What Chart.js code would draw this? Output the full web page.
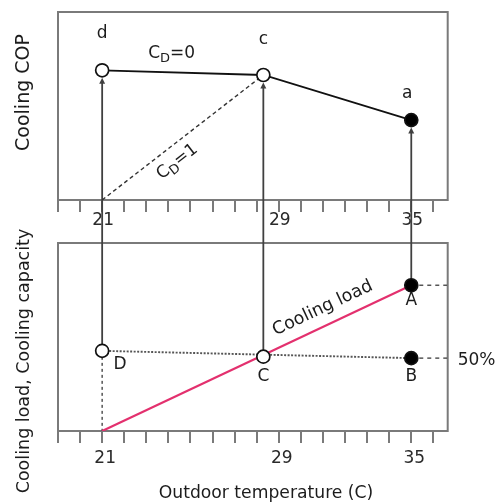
<!DOCTYPE html>
<html><head><meta charset="utf-8">
<script src="https://cdn.jsdelivr.net/npm/chart.js@4.4.1/dist/chart.umd.min.js"></script>
<style>html,body{margin:0;padding:0;background:#fff;overflow:hidden}#wrap{width:496px;height:503px;position:relative}</style>
</head><body><div id="wrap"><canvas id="c" width="496" height="503"></canvas></div>
<script>
// ---------- data ----------
const tempTicks = [19, 20, 21, 22, 23, 24, 25, 26, 27, 28, 29, 30, 31, 32, 33, 34, 35, 36];
const tempLabels = [21, 29, 35];
const tempMin = 19, tempMax = 36.65;

// top panel: cooling COP (arbitrary schematic units)
const copRange = [0, 10];
const copTemps = [21, 28.3, 35];
const copValues = [6.9, 6.65, 4.25];
const copNames = ['d', 'c', 'a'];
const copFilled = [false, false, true];
// Cd = 1 part-load line
const cdOneTemps = [21, 28.3];
const cdOneCop = [0, 6.65];

// bottom panel: cooling load / capacity (% of design load)
const loadRange = [0, 129];
const loadTemps = [21, 35];
const loadValues = [0, 100];
const capTemps = [21, 35];
const capValues = [55, 50];
const stateTemps = [21, 28.3, 35, 35];
const stateValues = [55, 51, 100, 50];
const stateNames = ['D', 'C', 'A', 'B'];
const stateFilled = [false, false, true, true];
const extTemps = [35, tempMax];
const dropTemps = [21, 21];
const dropValues = [55, 0];

// ---------- helpers ----------
const FF = '"DejaVu Sans", sans-serif';
const fnt = s => `${s}px ${FF}`;
const pts = (xs, ys) => xs.map((x, i) => ({x, y: ys[i]}));
const TXT = '#1c1c1c';

function subText(ctx, x, y, main, sub, rest, align) {
  ctx.font = fnt(17);
  const w1 = ctx.measureText(main).width, w3 = ctx.measureText(rest).width;
  ctx.font = fnt(13);
  const w2 = ctx.measureText(sub).width;
  const total = w1 + w2 + w3;
  let sx = align === 'center' ? x - total / 2 : x;
  ctx.textAlign = 'left'; ctx.textBaseline = 'middle';
  ctx.font = fnt(17); ctx.fillText(main, sx, y);
  ctx.font = fnt(13); ctx.fillText(sub, sx + w1, y + 5);
  ctx.font = fnt(17); ctx.fillText(rest, sx + w1 + w2, y);
}

const schematic = {
  id: 'schematic',
  beforeDatasetsDraw(chart) {
    const {ctx, scales} = chart;
    const x = scales.x, yT = scales.yTop, yB = scales.yBot;
    ctx.save();
    // panel frames
    ctx.strokeStyle = '#7a7a7a'; ctx.lineWidth = 2; ctx.setLineDash([]);
    ctx.strokeRect(x.left, yT.top, x.right - x.left, yT.bottom - yT.top);
    ctx.strokeRect(x.left, yB.top, x.right - x.left, yB.bottom - yB.top);

    // arrows from lower states (D, C, A) up to COP points (d, c, a)
    ctx.strokeStyle = '#404040'; ctx.fillStyle = '#404040'; ctx.lineWidth = 1.8;
    for (let i = 0; i < 3; i++) {
      const px = x.getPixelForValue(copTemps[i]);
      const y0 = yB.getPixelForValue(stateValues[i]);
      const tip = yT.getPixelForValue(copValues[i]) + 7.5;
      ctx.beginPath(); ctx.moveTo(px, y0); ctx.lineTo(px, tip + 5); ctx.stroke();
      ctx.beginPath(); ctx.moveTo(px, tip); ctx.lineTo(px - 3, tip + 6); ctx.lineTo(px + 3, tip + 6); ctx.closePath(); ctx.fill();
    }

    // texts
    ctx.fillStyle = TXT;
    ctx.textAlign = 'center'; ctx.textBaseline = 'middle';
    ctx.font = fnt(19);
    ctx.save(); ctx.translate(24, 92.5); ctx.rotate(-Math.PI / 2); ctx.fillText('Cooling COP', 0, 0); ctx.restore();
    ctx.font = fnt(17.5);
    ctx.save(); ctx.translate(24, 361); ctx.rotate(-Math.PI / 2); ctx.fillText('Cooling load, Cooling capacity', 0, 0); ctx.restore();
    ctx.font = fnt(17.2);
    ctx.fillText('Outdoor temperature (C)', 266, 494);

    // point names
    const copOff = [[0, -37], [0, -35], [-4, -27]];
    ctx.font = fnt(17);
    copNames.forEach((n, i) => {
      ctx.fillText(n, x.getPixelForValue(copTemps[i]) + copOff[i][0], yT.getPixelForValue(copValues[i]) + copOff[i][1]);
    });
    const stOff = [[18, 14], [0, 20], [0, 15], [0, 18]];
    stateNames.forEach((n, i) => {
      ctx.fillText(n, x.getPixelForValue(stateTemps[i]) + stOff[i][0], yB.getPixelForValue(stateValues[i]) + stOff[i][1]);
    });

    // Cd = 0 label above d-c line
    const dx = x.getPixelForValue(copTemps[0]), dy = yT.getPixelForValue(copValues[0]);
    subText(ctx, dx + 46, dy - 17, 'C', 'D', '=0', 'left');

    // Cd = 1 label along dashed line
    const p0x = x.getPixelForValue(cdOneTemps[0]), p0y = yT.getPixelForValue(cdOneCop[0]);
    const p1x = x.getPixelForValue(cdOneTemps[1]), p1y = yT.getPixelForValue(cdOneCop[1]);
    const a1 = Math.atan2(p1y - p0y, p1x - p0x);
    ctx.save();
    ctx.translate(p0x + (p1x - p0x) * 0.406, p0y + (p1y - p0y) * 0.406);
    ctx.rotate(a1);
    subText(ctx, 0, 16, 'C', 'D', '=1', 'center');
    ctx.restore();

    // Cooling load label along pink line
    const l0x = x.getPixelForValue(loadTemps[0]), l0y = yB.getPixelForValue(loadValues[0]);
    const l1x = x.getPixelForValue(loadTemps[1]), l1y = yB.getPixelForValue(loadValues[1]);
    const a2 = Math.atan2(l1y - l0y, l1x - l0x);
    ctx.save();
    ctx.translate(l0x + (l1x - l0x) * 0.737, l0y + (l1y - l0y) * 0.737);
    ctx.rotate(a2);
    ctx.textAlign = 'center'; ctx.textBaseline = 'middle'; ctx.font = fnt(17.5);
    ctx.fillText('Cooling load', 0, -17);
    ctx.restore();

    // 50% label
    ctx.textAlign = 'left'; ctx.font = fnt(17);
    ctx.fillText('50%', x.right + 10, yB.getPixelForValue(stateValues[3]) + 2);
    ctx.restore();
  }
};

const tickFont = {family: FF, size: 17, lineHeight: 1};
function xAxis(extra) {
  return Object.assign({
    type: 'linear', min: tempMin, max: tempMax,
    afterBuildTicks: s => { s.ticks = tempTicks.map(v => ({value: v})); },
    grid: {drawOnChartArea: false, drawTicks: true, tickLength: 12, color: '#7a7a7a', lineWidth: 2},
    border: {display: false}
  }, extra);
}
function yAxis(min, max, w, order) {
  return {
    type: 'linear', position: 'left', stack: 'panels', stackWeight: w, weight: order,
    min, max, display: true,
    ticks: {display: false}, grid: {display: false}, border: {display: false},
    afterFit: s => { s.width = 58; }
  };
}
const tickLabel = v => tempLabels.includes(v) ? String(v) : '';

const cfg = {
  type: 'line',
  data: {
    datasets: [
      { // top COP curve with markers
        data: pts(copTemps, copValues), xAxisID: 'x', yAxisID: 'yTop',
        borderColor: '#111', borderWidth: 1.8, tension: 0,
        pointRadius: 6.5, pointBorderWidth: 1.7, pointBorderColor: '#111',
        pointBackgroundColor: copFilled.map(f => f ? '#000' : '#fff')
      },
      { // Cd = 1
        data: pts(cdOneTemps, cdOneCop), xAxisID: 'x', yAxisID: 'yTop',
        borderColor: '#333', borderWidth: 1.4, borderDash: [4, 3], pointRadius: 0
      },
      { // bottom state markers
        data: pts(stateTemps, stateValues), xAxisID: 'x', yAxisID: 'yBot', showLine: false,
        pointRadius: 6.5, pointBorderWidth: 1.7, pointBorderColor: '#111',
        pointBackgroundColor: stateFilled.map(f => f ? '#000' : '#fff')
      },
      { // capacity line D-B
        data: pts(capTemps, capValues), xAxisID: 'x', yAxisID: 'yBot',
        borderColor: '#555', borderWidth: 1.9, borderDash: [2, 1.5], pointRadius: 0
      },
      { // cooling load
        data: pts(loadTemps, loadValues), xAxisID: 'x', yAxisID: 'yBot',
        borderColor: '#e3306e', borderWidth: 2.2, pointRadius: 0
      },
      { // A extension
        data: pts(extTemps, [stateValues[2], stateValues[2]]), xAxisID: 'x', yAxisID: 'yBot',
        borderColor: '#555', borderWidth: 1.5, borderDash: [4, 4], pointRadius: 0
      },
      { // B extension
        data: pts(extTemps, [stateValues[3], stateValues[3]]), xAxisID: 'x', yAxisID: 'yBot',
        borderColor: '#555', borderWidth: 1.5, borderDash: [4, 4], pointRadius: 0
      },
      { // drop from D
        data: pts(dropTemps, dropValues), xAxisID: 'x', yAxisID: 'yBot',
        borderColor: '#555', borderWidth: 1.5, borderDash: [3, 3], pointRadius: 0
      }
    ]
  },
  options: {
    responsive: false, animation: false, events: [],
    layout: {padding: {left: 0, right: 48.3, top: 12, bottom: 0}},
    plugins: {legend: {display: false}, tooltip: {enabled: false}, title: {display: false}},
    scales: {
      x: xAxis({position: 'bottom', afterFit: s => { s.height = 72; },
        ticks: {autoSkip: false, maxRotation: 0, minRotation: 0, color: '#2a2a2a', font: tickFont, padding: 7, labelOffset: 3, callback: tickLabel}}),
      x2: xAxis({position: {yTop: copRange[0]},
        ticks: {autoSkip: false, maxRotation: 0, minRotation: 0, color: '#2a2a2a', font: tickFont, padding: 0, labelOffset: 1, callback: tickLabel}}),
      yTop: yAxis(copRange[0], copRange[1], 188, 3),
      yGap: yAxis(0, 1, 43, 2),
      yBot: yAxis(loadRange[0], loadRange[1], 188, 1)
    }
  },
  plugins: [schematic]
};
new Chart(document.getElementById('c'), cfg);
</script></body></html>
